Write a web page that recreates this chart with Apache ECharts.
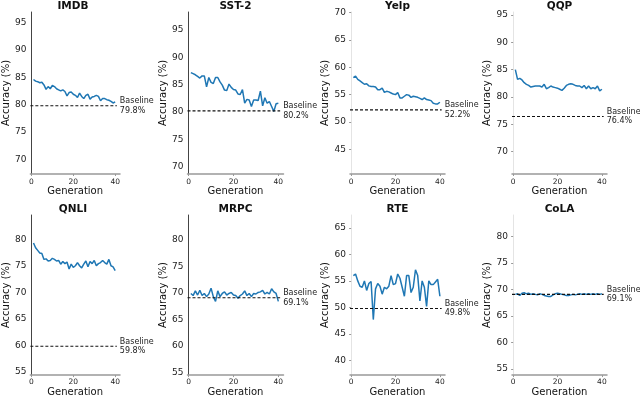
<!DOCTYPE html>
<html>
<head>
<meta charset="utf-8">
<script src="https://cdn.jsdelivr.net/npm/echarts@6/dist/echarts.min.js"></script>
<style>
  html, body { margin: 0; padding: 0; background: #fff; }
  #chart { width: 640px; height: 398px; }
</style>
</head>
<body>
<div id="chart"></div>
<script>
// generations 1..40
const gens = Array.from({ length: 40 }, (_, i) => i + 1)

const titles = ['IMDB', 'SST-2', 'Yelp', 'QQP', 'QNLI', 'MRPC', 'RTE', 'CoLA']
const baselines = [79.8, 80.2, 52.2, 76.4, 59.8, 69.1, 49.8, 69.1]

const imdb = [84.6, 84.3, 84.2, 84.0, 84.1, 83.6, 82.8, 83.3, 82.9, 83.5, 83.3, 82.9, 82.7, 82.5, 82.7, 82.4, 81.6, 82.2, 82.3, 81.9,
  81.7, 81.3, 82.1, 81.5, 81.1, 81.7, 81.9, 81.0, 81.4, 81.5, 81.7, 81.5, 80.7, 81.1, 81.1, 80.9, 80.8, 80.6, 80.3, 80.5]
const sst2 = [87.2, 87.0, 86.8, 86.5, 86.2, 86.6, 86.6, 84.6, 86.3, 85.4, 85.2, 86.3, 86.3, 85.5, 84.9, 84.0, 83.9, 85.1, 84.5, 84.1,
  84.0, 83.3, 83.2, 84.1, 81.6, 82.3, 82.2, 81.0, 82.2, 82.2, 82.1, 83.8, 81.1, 82.6, 81.6, 81.9, 81.0, 80.1, 81.5, 81.6]
const yelp = [58.1, 58.4, 57.8, 57.5, 57.2, 56.9, 57.0, 56.6, 56.5, 56.5, 56.4, 55.9, 55.9, 56.2, 55.4, 55.6, 55.5, 55.3, 55.1, 55.0,
  55.4, 54.4, 54.4, 54.7, 55.0, 54.9, 54.5, 54.7, 54.6, 54.5, 54.3, 54.1, 54.4, 54.1, 54.0, 53.9, 53.4, 53.3, 53.3, 53.6]
const qqp = [85.0, 83.2, 83.4, 83.1, 82.6, 82.3, 82.1, 81.8, 81.9, 82.0, 82.0, 82.0, 81.8, 82.3, 81.5, 81.7, 82.0, 81.8, 81.7, 81.6,
  81.4, 81.2, 81.6, 82.1, 82.3, 82.4, 82.3, 82.1, 82.0, 82.0, 81.7, 82.1, 81.5, 82.0, 81.5, 81.7, 81.5, 82.0, 81.1, 81.4]
const qnli = [79.3, 78.4, 77.9, 77.4, 77.3, 76.2, 76.3, 75.9, 76.0, 76.4, 76.2, 75.9, 76.0, 75.3, 75.8, 75.4, 75.7, 74.4, 75.3, 74.7,
  75.0, 75.6, 75.0, 74.6, 75.3, 75.9, 74.8, 75.8, 75.4, 76.0, 75.0, 75.4, 75.6, 76.0, 75.6, 75.3, 76.2, 75.0, 74.8, 74.1]
const mrpc = [69.9, 69.5, 70.4, 69.6, 70.5, 69.5, 69.9, 69.3, 69.8, 70.9, 69.3, 68.4, 70.4, 69.3, 69.9, 70.2, 69.6, 69.9, 70.1, 69.6,
  69.5, 69.0, 69.5, 69.8, 70.4, 69.5, 69.9, 69.3, 69.9, 69.8, 70.1, 70.2, 70.5, 69.8, 70.1, 69.8, 70.8, 70.2, 69.9, 68.4]
const rte = [56.0, 56.3, 55.0, 54.0, 53.8, 55.0, 53.2, 54.5, 54.9, 47.7, 53.5, 54.5, 54.0, 52.5, 53.8, 53.5, 54.0, 56.0, 54.3, 54.5,
  56.3, 55.5, 53.8, 52.1, 56.0, 56.0, 52.8, 53.8, 57.1, 56.0, 51.2, 55.0, 53.8, 50.2, 55.0, 54.3, 54.3, 54.8, 55.3, 52.1]
const cola = [69.1, 69.2, 68.9, 69.3, 69.4, 69.2, 69.3, 69.1, 69.2, 69.1, 69.0, 69.2, 69.1, 68.9, 68.8, 68.7, 68.7, 69.0, 69.2, 69.3,
  69.2, 69.1, 69.0, 68.9, 68.9, 69.0, 69.1, 69.0, 69.1, 69.2, 69.1, 69.2, 69.1, 69.2, 69.1, 69.2, 69.1, 69.2, 69.1, 69.2]
const allSeries = [imdb, sst2, yelp, qqp, qnli, mrpc, rte, cola]

const yTicks = [
  [70, 75, 80, 85, 90, 95],
  [70, 75, 80, 85, 90, 95],
  [45, 50, 55, 60, 65, 70],
  [70, 75, 80, 85, 90, 95],
  [55, 60, 65, 70, 75, 80],
  [55, 60, 65, 70, 75, 80],
  [40, 45, 50, 55, 60, 65],
  [55, 60, 65, 70, 75, 80]
]
const xTicks = [0, 20, 40]

// axis ranges
const yMin = [67.29, 68.63, 40.46, 65.88, 54.36, 54.49, 37.22, 53.86]
const yMax = [96.96, 98.30, 70.13, 95.55, 84.58, 84.71, 67.44, 84.08]
const xMin = -0.5
const xMax = 42.3
const baseEnd = 40.8

const font = 'DejaVu Sans'
const colLeft = [26, 187.5, 350, 512]
const colWidth = [94, 96, 95, 95]
const rowTop = [12, 215]
const rowHeight = [162, 165]

const grids = []
const xAxes = []
const yAxes = []
const series = []
const titleList = []

for (let i = 0; i < 8; i++) {
  const r = Math.floor(i / 4)
  const c = i % 4
  const faint = c >= 2
  grids.push({ left: colLeft[c], top: rowTop[r], width: colWidth[c], height: rowHeight[r] })
  titleList.push({
    text: titles[i],
    left: colLeft[c] + colWidth[c] / 2,
    top: r === 0 ? 1 : 204,
    textAlign: 'center',
    padding: 0,
    textStyle: { fontFamily: font, fontSize: 10.5, fontWeight: 'bold', color: '#111' }
  })
  xAxes.push({
    type: 'value',
    gridIndex: i,
    min: xMin,
    max: xMax,
    name: 'Generation',
    nameLocation: 'middle',
    nameGap: r === 0 ? 12 : 10,
    nameTextStyle: { fontFamily: font, fontSize: 10, color: '#111' },
    axisLine: { show: true, onZero: false, lineStyle: { color: '#999', width: 1.5 } },
    axisTick: { show: true, length: 2, customValues: xTicks, lineStyle: { color: '#999' } },
    axisLabel: { customValues: xTicks, fontFamily: font, fontSize: 7.5, color: '#222', margin: r === 0 ? 4 : 3 },
    splitLine: { show: false }
  })
  yAxes.push({
    type: 'value',
    gridIndex: i,
    min: yMin[i],
    max: yMax[i],
    name: 'Accuracy (%)',
    nameLocation: 'middle',
    nameGap: 15,
    nameTextStyle: { fontFamily: font, fontSize: 10, color: '#111' },
    axisLine: { show: true, lineStyle: { color: faint ? '#e4e4e4' : '#444', width: 1 } },
    axisTick: { show: faint, length: 2, customValues: yTicks[i], lineStyle: { color: '#999' } },
    axisLabel: { customValues: yTicks[i], fontFamily: font, fontSize: 9, color: '#222', margin: 4 },
    splitLine: { show: false }
  })
  series.push({
    type: 'line',
    xAxisIndex: i,
    yAxisIndex: i,
    showSymbol: false,
    symbol: 'none',
    lineStyle: { color: '#1f77b4', width: 1.5 },
    data: gens.map((g, k) => [g, allSeries[i][k]]),
    z: 3
  })
  series.push({
    type: 'line',
    xAxisIndex: i,
    yAxisIndex: i,
    symbol: 'none',
    lineStyle: { color: '#111', width: 1.1, type: [3, 2] },
    endLabel: {
      show: true,
      distance: 3,
      formatter: 'Baseline\n' + baselines[i].toFixed(1) + '%',
      fontFamily: font,
      fontSize: 8,
      lineHeight: 9.5,
      color: '#222'
    },
    data: [[xMin, baselines[i]], [baseEnd, baselines[i]]],
    z: 4
  })
}

const chart = echarts.init(document.getElementById('chart'), null, { renderer: 'canvas' })
chart.setOption({
  animation: false,
  backgroundColor: '#fff',
  title: titleList,
  grid: grids,
  xAxis: xAxes,
  yAxis: yAxes,
  series: series
})
</script>
</body>
</html>
